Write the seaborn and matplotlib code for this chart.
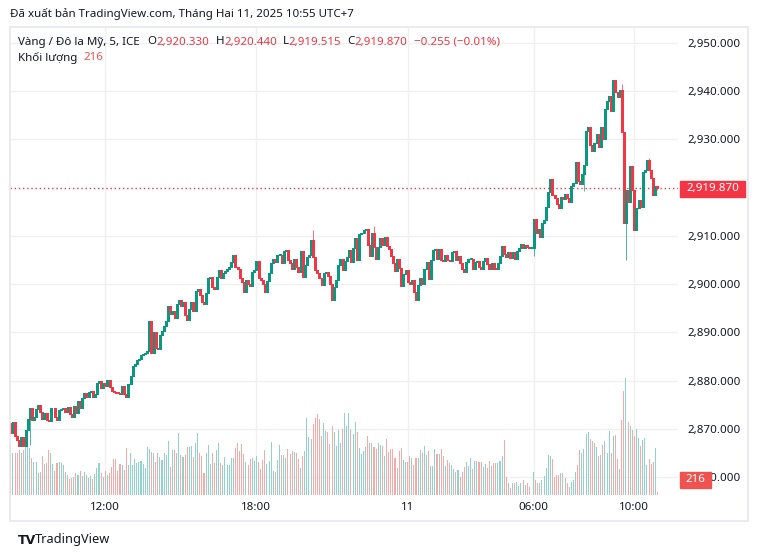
import numpy as np
import pandas as pd
import seaborn as sns
import matplotlib
matplotlib.use("Agg")
import matplotlib.pyplot as plt
from matplotlib.patches import Rectangle
from matplotlib.ticker import FuncFormatter

W, H = 759, 557

# XAU/USD 5 min bars, 10 Feb 08:15 -> 11 Feb 10:55 (UTC+7)
first_open = 2871.2
closes = [
    2869.2, 2871.3, 2868.5, 2867.6, 2866.5, 2868.3, 2866.4, 2869.8, 2872.0, 2874.3,
    2871.8, 2872.5, 2874.1, 2874.9, 2873.5, 2872.0, 2873.3, 2871.9, 2871.6, 2874.2,
    2874.3, 2872.4, 2871.9, 2873.8, 2874.0, 2874.3, 2873.4, 2874.6, 2873.0, 2872.4,
    2874.8, 2873.3, 2875.8, 2874.2, 2876.3, 2877.4, 2876.5, 2877.6, 2877.8, 2876.5,
    2877.2, 2879.5, 2879.8, 2878.4, 2879.5, 2878.8, 2880.1, 2878.6, 2877.9, 2877.6,
    2877.5, 2877.4, 2877.2, 2878.9, 2877.2, 2876.5, 2879.3, 2881.0, 2883.0, 2883.5,
    2884.3, 2884.5, 2885.3, 2885.5, 2885.7, 2886.1, 2892.4, 2885.8, 2890.0, 2886.7,
    2886.5, 2889.5, 2890.3, 2891.3, 2892.4, 2895.5, 2893.9, 2894.4, 2892.9, 2895.8,
    2896.8, 2895.5, 2896.3, 2893.5, 2892.5, 2894.9, 2896.3, 2894.4, 2898.5, 2898.9,
    2897.7, 2896.3, 2895.8, 2898.2, 2901.2, 2901.4, 2899.4, 2899.0, 2901.5, 2902.9,
    2901.2, 2902.2, 2902.7, 2903.1, 2903.6, 2904.6, 2906.0, 2903.6, 2903.2, 2901.2,
    2900.5, 2898.4, 2900.8, 2900.0, 2899.6, 2902.5, 2902.9, 2904.7, 2901.2, 2900.8,
    2900.1, 2898.4, 2900.6, 2902.2, 2904.3, 2905.3, 2904.6, 2906.0, 2906.1, 2904.3,
    2906.8, 2907.0, 2905.0, 2904.4, 2903.2, 2905.3, 2903.5, 2902.5, 2906.9, 2901.5,
    2903.9, 2905.6, 2906.0, 2909.1, 2905.6, 2902.9, 2902.2, 2901.3, 2899.8, 2902.2,
    2902.5, 2901.7, 2900.0, 2896.7, 2899.4, 2900.9, 2903.9, 2905.3, 2903.0, 2904.8,
    2905.6, 2907.0, 2904.6, 2907.4, 2909.5, 2905.0, 2910.3, 2910.5, 2911.3, 2911.4,
    2908.2, 2905.9, 2910.5, 2907.7, 2905.3, 2907.7, 2909.6, 2908.2, 2909.8, 2908.0,
    2907.2, 2905.9, 2904.3, 2902.7, 2905.3, 2903.4, 2899.6, 2902.0, 2902.9, 2900.5,
    2900.1, 2900.8, 2898.3, 2896.7, 2899.9, 2901.2, 2900.1, 2903.2, 2904.6, 2901.0,
    2905.0, 2907.0, 2907.2, 2905.3, 2907.2, 2905.0, 2904.7, 2906.0, 2905.0, 2904.7,
    2906.7, 2906.8, 2905.0, 2905.9, 2904.3, 2903.2, 2902.5, 2904.6, 2905.2, 2905.3,
    2903.2, 2904.6, 2904.8, 2903.6, 2903.2, 2904.7, 2905.4, 2904.2, 2903.2, 2904.4,
    2903.2, 2903.1, 2904.3, 2905.8, 2907.8, 2906.2, 2905.7, 2906.7, 2905.4, 2906.7,
    2905.2, 2906.8, 2907.4, 2908.4, 2907.4, 2908.1, 2907.7, 2907.5, 2907.5, 2913.5,
    2910.5, 2911.5, 2909.8, 2912.6, 2913.3, 2916.0, 2919.0, 2921.7, 2918.4, 2917.9,
    2916.7, 2915.8, 2918.1, 2917.6, 2918.7, 2917.9, 2917.0, 2920.3, 2921.0, 2925.3,
    2921.4, 2920.7, 2922.8, 2924.7, 2931.7, 2932.5, 2928.9, 2927.5, 2929.2, 2931.1,
    2928.5, 2932.5, 2930.0, 2936.3, 2937.9, 2939.0, 2936.0, 2942.3, 2939.9, 2938.9,
    2940.3, 2931.5, 2912.6, 2919.5, 2917.1, 2924.4, 2919.5, 2911.2, 2915.7, 2917.4,
    2915.9, 2923.3, 2923.7, 2925.8, 2923.7, 2921.9, 2918.5, 2920.33, 2919.87,
]
# last bar from the legend
last_open, last_high, last_low = 2920.33, 2920.44, 2919.515
# visible wicks beyond the bodies (bar index -> price)
wick_high = {144: 2911.2, 173: 2912.1, 291: 2941.5, 304: 2926.1}
wick_low = {9: 2866.6, 249: 2905.8, 273: 2919.4, 293: 2905.0}

volume = [
    4080, 3360, 3360, 3360, 3600, 3360, 3600, 3840, 4000, 3760,
    2960, 2640, 2640, 1760, 1840, 3120, 2480, 2560, 3600, 3360,
    2480, 1920, 2560, 2640, 2560, 2400, 1840, 1600, 1280, 1360,
    1440, 1760, 1600, 1920, 1520, 1840, 1600, 1360, 1520, 1280,
    1680, 2160, 2560, 1760, 1440, 1920, 1600, 1760, 2240, 2880,
    2880, 1920, 2480, 2400, 2000, 3760, 2400, 3360, 2400, 2880,
    2560, 2640, 2720, 2480, 2160, 3840, 3680, 3440, 3360, 2640,
    3360, 3040, 2800, 3360, 3200, 4320, 2240, 3600, 3600, 3360,
    4960, 3200, 3040, 3200, 3840, 3840, 3920, 3040, 4160, 4960,
    3360, 3120, 1760, 3360, 4000, 2480, 3360, 2560, 3600, 4160,
    2560, 2400, 3040, 2400, 2400, 2960, 2960, 3760, 4160,
    3520, 4080, 3280, 2640, 2400, 2880, 2960, 2720, 3120, 2640,
    2080, 2800, 3600, 2480, 2720, 4240, 1920, 1840, 2800, 4000,
    3200, 3200, 2960, 3680, 3280, 3520, 3440, 3360, 2880, 2160,
    3120, 3520, 6160, 4640, 4480, 5680, 6160, 6480, 6080, 4720,
    5760, 5120, 5040, 4080, 5520, 5040, 3920, 5200, 4160, 5280,
    6560, 5520, 6560, 5280, 4880, 5840, 5040, 3760, 3280, 3520,
    3840, 4720, 4160, 4160, 3840, 3680, 4160, 4000, 3920, 3120,
    4480, 3440, 3680, 3680, 2960, 2160, 3520, 3760, 2800, 2640,
    2640, 3120, 2960, 2400, 2960, 2960, 3600, 3360, 3920, 3200,
    3520, 2320, 2320, 3680, 3280, 3280, 3680, 3120, 2320, 2800,
    2560, 2400, 2080, 1840, 2000, 1440, 1840, 2240, 2640, 2320,
    2960, 2080, 2720, 2720, 2640,
    2640, 2240, 2480, 2160, 2720, 2320, 2560, 2560, 2560, 2720,
    3120, 4400, 1440, 960, 560, 960, 960, 1040, 720, 960,
    1200, 800, 960, 640, 40,
    1840, 1200, 960, 960, 1200, 1520, 2160, 3200, 3120, 2880,
    1440, 1600, 1600, 1760, 1760, 1360, 960, 640, 1040, 1200,
    1840, 2400, 3600, 3360, 3680, 4880, 5040, 4480, 4320, 4160,
    3840, 3120, 3200, 4000, 4320, 3360, 5120, 3360, 4720, 4800,
    2880, 2080, 6000, 8320, 9360, 5840, 5520, 5200, 4720, 5280,
    4560, 3920, 4400, 4560, 2400, 2880, 2480, 2640, 3760, 216,
]

price_ticks = [2860, 2870, 2880, 2890, 2900, 2910, 2930, 2940, 2950]
time_ticks = ["2025-02-10 12:00", "2025-02-10 18:00", "2025-02-11 00:00",
              "2025-02-11 06:00", "2025-02-11 10:00"]
time_labels = ["12:00", "18:00", "11", "06:00", "10:00"]

UP, DOWN = "#089981", "#f23645"
VUP, VDOWN = "#92d2cc", "#f7a9a7"
TXT = "#131722"

# bar times, one hour break 05:00-06:00 on the 11th
times = pd.date_range("2025-02-10 08:15", "2025-02-11 10:55", freq="5min")
times = times[~((times.day == 11) & (times.hour == 5))]
assert len(times) == len(closes) == len(volume)

df = pd.DataFrame({"time": times, "close": closes, "volume": volume})
df["idx"] = np.arange(len(df))
df["open"] = [first_open] + closes[:-1]
df.loc[df.index[-1], "open"] = last_open
df["high"] = df[["open", "close"]].max(axis=1)
df["low"] = df[["open", "close"]].min(axis=1)
for k, v in wick_high.items():
    df.loc[k, "high"] = v
for k, v in wick_low.items():
    df.loc[k, "low"] = v
df.loc[df.index[-1], "high"] = last_high
df.loc[df.index[-1], "low"] = last_low
df["dir"] = np.where(df["close"] >= df["open"], "up", "down")

sns.set_theme(style="white")
plt.rcParams["font.family"] = ["Noto Sans", "DejaVu Sans"]
FS = 8.3


def fx(px):
    return px / W


def fy(py):
    return 1 - py / H


fig = plt.figure(figsize=(W / 100, H / 100), dpi=100, facecolor="white")
rect = [fx(10), fy(495), (678 - 10) / W, (495 - 27) / H]
xlim = (-0.4, 317.8)
ylim = (2856.26, 2953.32)

# frame around the chart pane
fig.patches.append(Rectangle((fx(10), fy(521)), (748 - 10) / W, (521 - 27) / H,
                             transform=fig.transFigure, fill=False,
                             edgecolor="#e6e8ee", lw=1.2, zorder=0))

ax = fig.add_axes(rect)
ax.set_facecolor("white")
ax.set_xlim(*xlim)
ax.set_ylim(*ylim)
ax.set_yticks(price_ticks)
ax.yaxis.tick_right()
ax.yaxis.set_major_formatter(FuncFormatter(lambda v, p: f"{v:,.3f}"))
tick_pos = [int(np.where(times == pd.Timestamp(t))[0][0]) for t in time_ticks]
ax.set_xticks(tick_pos)
ax.set_xticklabels(time_labels)
ax.tick_params(axis="y", length=0, pad=7, labelsize=FS, labelcolor=TXT)
ax.tick_params(axis="x", length=0, pad=5, labelsize=FS, labelcolor=TXT)
ax.grid(True, color="#f0f0f0", lw=1)
for s in ax.spines.values():
    s.set_visible(False)

# volume pane
axv = fig.add_axes(rect, sharex=ax)
axv.patch.set_visible(False)
sns.barplot(data=df, x="idx", y="volume", hue="dir", palette={"up": VUP, "down": VDOWN},
            native_scale=True, width=0.5, dodge=False, legend=False, errorbar=None,
            saturation=1, linewidth=0, edgecolor="none", ax=axv)
axv.set_ylim(0, 468 * 80)
axv.set_xlim(*xlim)
axv.axis("off")

# candles
axc = fig.add_axes(rect, sharex=ax)
axc.patch.set_visible(False)
axc.set_ylim(*ylim)
axc.axhline(closes[-1], color=DOWN, lw=1, ls=(0, (1, 2)))
cols = np.where(df["dir"] == "up", UP, DOWN)
lo = df[["open", "close"]].min(axis=1).to_numpy()
hi = df[["open", "close"]].max(axis=1).to_numpy()
hi = np.maximum(hi, lo + 0.15)
axc.vlines(df["idx"], df["low"], df["high"], colors=cols, lw=0.5)
axc.vlines(df["idx"], lo, hi, colors=cols, lw=0.78, antialiased=False)
axc.set_xlim(*xlim)
axc.axis("off")

# price / volume labels on the scale
fig.patches.append(Rectangle((fx(680), fy(197)), 65 / W, 16 / H, transform=fig.transFigure,
                             color=DOWN, zorder=3))
fig.text(fx(712.5), fy(189), f"{closes[-1]:,.3f}", color="white", fontsize=FS,
         fontweight="bold", ha="center", va="center", zorder=4)
fig.patches.append(Rectangle((fx(680), fy(488)), 31 / W, 16 / H, transform=fig.transFigure,
                             color="#ef5350", zorder=3))
fig.text(fx(695.5), fy(480), f"{volume[-1]}", color="white", fontsize=FS,
         fontweight="bold", ha="center", va="center", zorder=4)

# header texts
fig.text(fx(10), fy(14), "Đã xuất bản TradingView.com, Tháng Hai 11, 2025 10:55 UTC+7",
         color=TXT, fontsize=FS, va="center")

# legend row laid out piece by piece
renderer = fig.canvas.get_renderer()
row = [("Vàng / Đô la Mỹ, 5, ICE", TXT, 8), ("O", TXT, 0), ("2,920.330", DOWN, 6),
       ("H", TXT, 0), ("2,920.440", DOWN, 6), ("L", TXT, 0), ("2,919.515", DOWN, 6),
       ("C", TXT, 0), ("2,919.870", DOWN, 6), ("−0.255 (−0.01%)", DOWN, 0)]
x = 18
for s, c, gap in row:
    t = fig.text(fx(x), fy(42), s, color=c, fontsize=FS, va="center")
    x += t.get_window_extent(renderer).width + gap
t = fig.text(fx(18), fy(58), "Khối lượng", color=TXT, fontsize=FS, va="center")
x = 18 + t.get_window_extent(renderer).width + 6
fig.text(fx(x), fy(58), "216", color="#ef5350", fontsize=FS, va="center")

# footer logo
fig.text(fx(18), fy(540), "TV", color=TXT, fontsize=9, fontweight="heavy",
         family="DejaVu Sans", va="center")
fig.text(fx(35), fy(540), "TradingView", color=TXT, fontsize=9.2, va="center")

fig.savefig("out.png", dpi=100, facecolor="white")
